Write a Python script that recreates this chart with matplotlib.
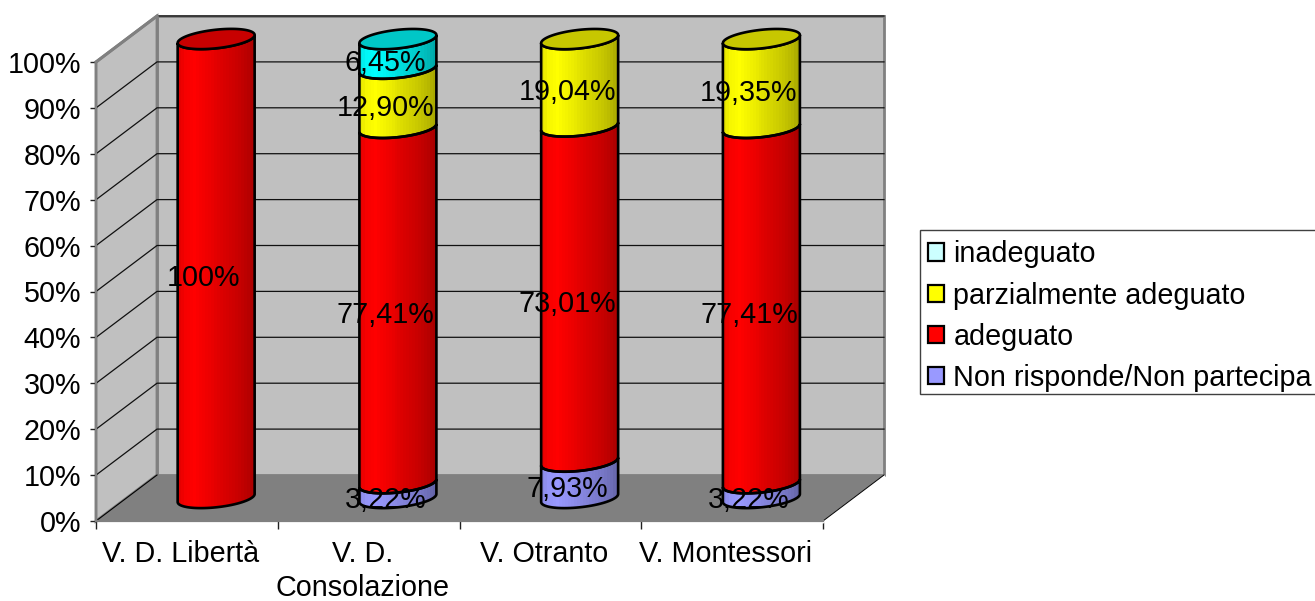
import numpy as np
import matplotlib
matplotlib.use('Agg')
import matplotlib.pyplot as plt
from matplotlib.patches import Patch, Polygon, Rectangle

plt.rcParams['font.family'] = ['Liberation Sans', 'DejaVu Sans']

categories = ['V. D. Libertà', 'V. D.\nConsolazione', 'V. Otranto', 'V. Montessori']
non_risponde = [0, 3.22, 7.93, 3.22]
adeguato = [100, 77.41, 73.01, 77.41]
parziale = [0, 12.90, 19.04, 19.35]
inadeguato = [0, 6.45, 0, 0]
labels_nr = ['', '3,22%', '7,93%', '3,22%']
labels_ad = ['100%', '77,41%', '73,01%', '77,41%']
labels_pa = ['', '12,90%', '19,04%', '19,35%']
labels_in = ['', '6,45%', '', '']
y_ticks = np.arange(0, 101, 10)

series = [
    (non_risponde, labels_nr, (0.6, 0.6, 1.0)),
    (adeguato, labels_ad, (1.0, 0.0, 0.0)),
    (parziale, labels_pa, (1.0, 1.0, 0.0)),
    (inadeguato, labels_in, (0.0, 1.0, 1.0)),
]

W, H = 1315, 601
FS = 20.7
fig = plt.figure(figsize=(W / 100, H / 100), dpi=100, facecolor='white')
ax = fig.add_axes([96 / W, (H - 521) / H, 727 / W, 459 / H])
n = len(categories)
px_x = 727 / n   # pixels per category
px_y = 4.59      # pixels per percent

# depth of the fake 3d box
dx = 61 / px_x
dy = 46 / px_y
grey = '#808080'

ax.add_patch(Polygon([(dx, dy), (n + dx, dy), (n + dx, 100 + dy), (dx, 100 + dy)],
                     fc='#c0c0c0', ec=grey, lw=2, clip_on=False, zorder=1))
ax.add_patch(Polygon([(0, 0), (dx, dy), (dx, 100 + dy), (0, 100)],
                     fc='#c0c0c0', ec=grey, lw=2, clip_on=False, zorder=1))
ax.add_patch(Polygon([(0, 0), (n, 0), (n + dx, dy), (dx, dy)],
                     fc=grey, ec='none', clip_on=False, zorder=1))
for t in y_ticks[1:]:
    ax.plot([0, dx, n + dx], [t, t + dy, t + dy], color='#101010', lw=0.9, clip_on=False, zorder=2)
ax.plot([0, dx], [100, 100 + dy], color=grey, lw=2.2, clip_on=False, zorder=3)
ax.plot([0, dx], [0, dy], color='black', lw=0.8, clip_on=False, zorder=3)
ax.plot([n, n + dx], [-0.3, dy - 0.3], color='white', lw=1.6, clip_on=False, zorder=2)
ax.plot([n, n + dx], [0, dy], color='black', lw=0.7, clip_on=False, zorder=3)
ax.plot([0, n], [0, 0], color='white', lw=1.2, clip_on=False, zorder=2)

# cylinder shape
a = 38.5 / px_x
b = 9.3 / px_y
skew = 4.0 / px_y
off_x = 0.48 * dx
off_y = 23 / px_y
t_front = np.linspace(np.pi, 0, 60)
t_all = np.linspace(0, 2 * np.pi, 120)

# light bands across the cylinder, left to right
band_pos = [0, 0.08, 0.2, 0.4, 0.6, 0.8, 0.92, 1]
band_val = [0.9, 0.97, 1.0, 0.93, 0.85, 0.78, 0.72, 0.66]
xb = np.linspace(0, 1, 26)
shade = np.interp(xb, band_pos, band_val)


def front_arc(cx, v):
    x = cx + a * np.cos(t_front)
    y = v + off_y - b * np.sin(t_front) + skew * np.cos(t_front)
    return x, y


for i in range(n):
    cx = i + 0.5 + off_x
    base = 0
    for values, labels, color in series:
        v = values[i]
        if v == 0:
            continue
        top = base + v
        x0, y0 = front_arc(cx, base)
        x1, y1 = front_arc(cx, top)
        pts = np.r_[np.c_[x0, y0], np.c_[x1[::-1], y1[::-1]]]
        poly = Polygon(pts, closed=True, fc='none', ec='black', lw=1.9, clip_on=False, zorder=6)
        ax.add_patch(poly)
        img = np.outer(shade, color).reshape(1, len(xb), 3)
        im = ax.imshow(img, extent=[cx - a, cx + a, y0.min() - 1, y1.max() + 3], aspect='auto',
                       interpolation='nearest', origin='lower', zorder=5)
        im.set_clip_path(poly)
        im.set_clip_box(fig.bbox)
        if labels[i]:
            ax.text(cx - 12.5 / px_x, base + v / 2 + off_y - 9.5 / px_y, labels[i], fontsize=FS,
                    ha='center', va='center', color='black', zorder=10, clip_on=False)
        base = top
        last_color = color
    ex = cx + a * np.cos(t_all)
    ey = base + off_y + b * np.sin(t_all) + skew * np.cos(t_all)
    ax.add_patch(Polygon(np.c_[ex, ey], closed=True, fc=tuple(c * 0.78 for c in last_color),
                         ec='black', lw=1.9, clip_on=False, zorder=7))

ax.set_xlim(0, n)
ax.set_ylim(0, 100)
ax.set_facecolor('none')
for s in ['top', 'right']:
    ax.spines[s].set_visible(False)
for s in ['left', 'bottom']:
    ax.spines[s].set_color(grey)
    ax.spines[s].set_linewidth(1.6)
    ax.spines[s].set_zorder(4)
ax.set_yticks(y_ticks)
ax.set_yticklabels([f'{t}%' for t in y_ticks], fontsize=FS)
ax.set_xticks(np.arange(n + 1))
ax.set_xticklabels([])
ax.set_xticks(np.arange(n) + 0.5 - 0.035, minor=True)
ax.set_xticklabels(categories, minor=True, fontsize=FS, linespacing=1.26)
ax.tick_params(axis='y', length=4.5, width=1, color='#202020', pad=6.3)
ax.tick_params(axis='x', which='major', length=6, width=1, color='#202020')
ax.tick_params(axis='x', which='minor', length=0, pad=14)

# legend frame runs off the right edge, as in the original
fig.add_artist(Rectangle((920 / W, (H - 394) / H), 420 / W, 164 / H, transform=fig.transFigure,
                         fc='white', ec='#404040', lw=1))
handles = [Patch(fc='#ccffff', ec='black', lw=1.6, label='inadeguato'),
           Patch(fc='#ffff00', ec='black', lw=1.6, label='parzialmente adeguato'),
           Patch(fc='#ff0000', ec='black', lw=1.6, label='adeguato'),
           Patch(fc='#9999ff', ec='black', lw=1.6, label='Non risponde/Non partecipa')]
fig.legend(handles=handles, loc='upper left', bbox_to_anchor=(922 / W, (H - 234) / H),
           fontsize=FS, frameon=False, handlelength=0.55, handleheight=0.55, handletextpad=0.32,
           labelspacing=0.46, borderpad=0.22, borderaxespad=0)

fig.savefig('out.png', dpi=100, facecolor='white')
